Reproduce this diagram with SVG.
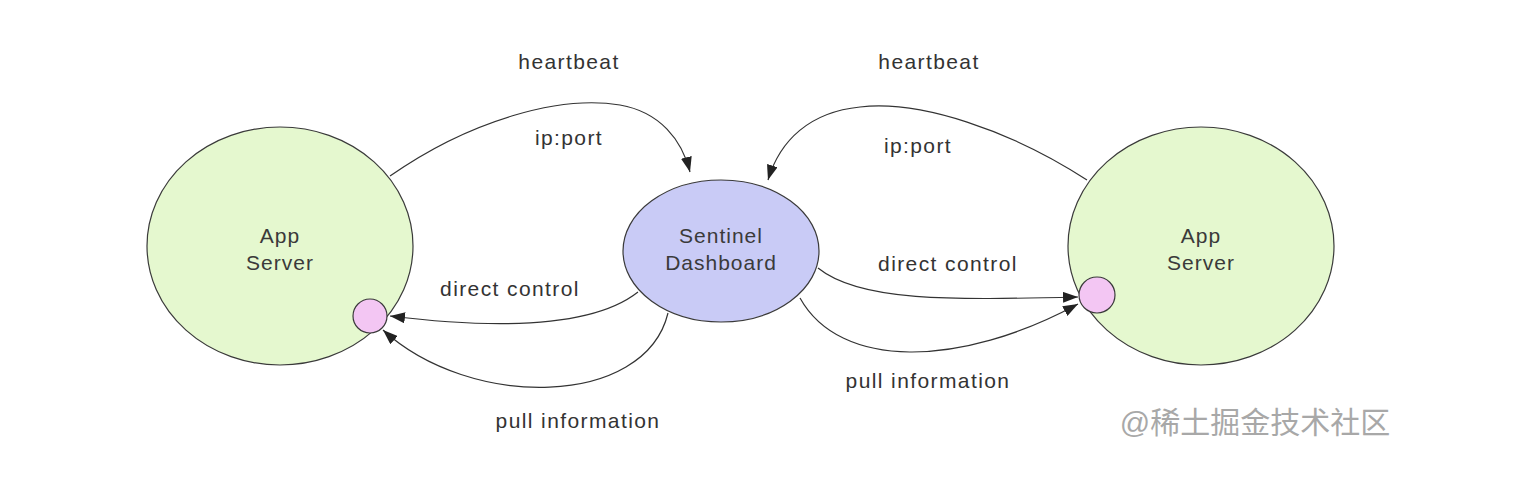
<svg xmlns="http://www.w3.org/2000/svg" width="1516" height="486" viewBox="0 0 1516 486">
<style>
.node{stroke:#3a3a3a;stroke-width:1.2}
.app{fill:#e5f8cf}
.dash{fill:#c9cbf6}
.port{fill:#f3c6f3}
.t{font-family:"Liberation Sans",Arial,sans-serif;font-size:21px;letter-spacing:1px;fill:#3a3a3a;text-anchor:middle}
.lbl{font-family:"Liberation Sans",Arial,sans-serif;font-size:21px;letter-spacing:1.4px;fill:#333;text-anchor:middle}
.wm{font-family:"Liberation Sans","Noto Sans CJK SC",sans-serif;font-size:30px;fill:#a8a8a8;text-anchor:middle}
.edge{fill:none;stroke:#333;stroke-width:1.2;marker-end:url(#arr)}
</style>
<defs>
<marker id="arr" viewBox="0 0 15 11" refX="15" refY="5.5" markerWidth="15" markerHeight="11" markerUnits="userSpaceOnUse" orient="auto">
<path d="M0,0 L15,5.5 L0,11 z" fill="#222"/>
</marker>
</defs>
<rect width="1516" height="486" fill="#fff"/>
<g id="app-left">
<ellipse class="node app" cx="280" cy="246" rx="133" ry="119"/>
<text class="t" x="280" y="243">App</text>
<text class="t" x="280" y="270">Server</text>
</g>
<g id="port-left"><circle class="node port" cx="370" cy="316" r="17"/></g>
<g id="dashboard">
<ellipse class="node dash" cx="721" cy="251" rx="98" ry="71"/>
<text class="t" x="721" y="243">Sentinel</text>
<text class="t" x="721" y="270">Dashboard</text>
</g>
<g id="app-right">
<ellipse class="node app" cx="1201" cy="246" rx="133" ry="119"/>
<text class="t" x="1201" y="243">App</text>
<text class="t" x="1201" y="270">Server</text>
</g>
<g id="port-right"><circle class="node port" cx="1097" cy="295" r="18"/></g>
<g id="connectors">
<path class="edge" d="M390,176 C470,120 560,95 620,105 C660,112 682,140 690,172"/>
<path class="edge" d="M1087,180 C1010,130 920,100 860,107 C810,112 780,140 768,180"/>
<path class="edge" d="M638,292 C600,322 520,332 390,316"/>
<path class="edge" d="M668,313 C645,408 470,410 383,330"/>
<path class="edge" d="M818,268 C860,302 950,300 1078,297"/>
<path class="edge" d="M800,298 C840,370 960,368 1078,304"/>
</g>
<g id="labels">
<text class="lbl" x="569" y="69">heartbeat</text>
<text class="lbl" x="569" y="145">ip:port</text>
<text class="lbl" x="510" y="296">direct control</text>
<text class="lbl" x="578" y="428">pull information</text>
<text class="lbl" x="929" y="69">heartbeat</text>
<text class="lbl" x="918" y="153">ip:port</text>
<text class="lbl" x="948" y="271">direct control</text>
<text class="lbl" x="928" y="388">pull information</text>
</g>
<text class="wm" x="1255" y="433">@稀土掘金技术社区</text>
</svg>
